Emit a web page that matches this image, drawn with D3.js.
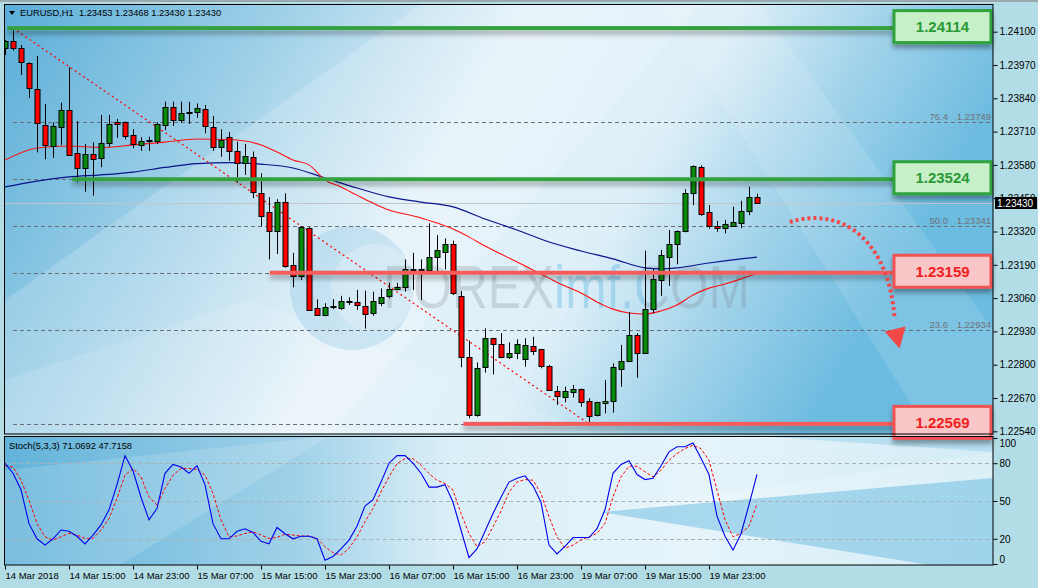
<!DOCTYPE html>
<html><head><meta charset="utf-8">
<script src="https://cdn.jsdelivr.net/npm/d3@7/dist/d3.min.js"></script>
<style>html,body{margin:0;padding:0;background:#b3dde6;}svg{display:block;font-family:"Liberation Sans",Arial,sans-serif;}</style>
</head><body><svg id="c" width="1038" height="588"></svg>
<script>
// ---------- DATA ----------
const headerText = "EURUSD,H1  1.23453 1.23468 1.23430 1.23430";
const stochText = "Stoch(5,3,3) 71.0692 47.7158";
const openP = [1.24035,1.24064,1.24035,1.23977,1.23875,1.23735,1.23655,1.23729,1.23794,1.23625,
1.23567,1.23621,1.23606,1.23664,1.23747,1.23747,1.23696,1.23658,1.23676,1.23671,
1.23738,1.23805,1.23753,1.23785,1.23785,1.23797,1.23729,1.23649,1.23688,1.23634,
1.23586,1.23610,1.23469,1.23395,1.23319,1.23434,1.23189,1.23147,1.23335,1.23020,
1.22991,1.23026,1.23022,1.23045,1.23044,1.23030,1.23001,1.23043,1.23065,1.23094,
1.23102,1.23167,1.23172,1.23167,1.23222,1.23241,1.23271,1.23068,1.22829,1.22604,
1.22790,1.22903,1.22880,1.22827,1.22844,1.22822,1.22873,1.22860,1.22795,1.22698,
1.22675,1.22695,1.22705,1.22658,1.22601,1.22649,1.22656,1.22783,1.22814,1.22916,
1.22844,1.23016,1.23131,1.23222,1.23270,1.23319,1.23469,1.23573,1.23395,1.23340,
1.23332,1.23343,1.23352,1.23400,1.23453];
const highP = [1.24068,1.24114,1.24048,1.23980,1.24005,1.23818,1.23746,1.23823,1.23961,1.23751,
1.23662,1.23668,1.23775,1.23775,1.23759,1.23749,1.23720,1.23688,1.23690,1.23746,
1.23827,1.23827,1.23827,1.23826,1.23820,1.23814,1.23771,1.23719,1.23708,1.23671,
1.23662,1.23632,1.23547,1.23454,1.23446,1.23469,1.23237,1.23341,1.23337,1.23055,
1.23040,1.23056,1.23069,1.23063,1.23092,1.23089,1.23085,1.23098,1.23120,1.23120,
1.23211,1.23237,1.23211,1.23352,1.23306,1.23293,1.23284,1.23088,1.22894,1.22809,
1.22942,1.22905,1.22923,1.22887,1.22899,1.22903,1.22909,1.22862,1.22799,1.22717,
1.22714,1.22721,1.22707,1.22669,1.22655,1.22740,1.22805,1.22877,1.23005,1.22923,
1.23245,1.23176,1.23248,1.23326,1.23324,1.23485,1.23578,1.23578,1.23423,1.23361,
1.23365,1.23417,1.23440,1.23495,1.23468];
const lowP = [1.24009,1.24026,1.23931,1.23842,1.23629,1.23602,1.23608,1.23658,1.23615,1.23512,
1.23475,1.23460,1.23571,1.23651,1.23686,1.23680,1.23645,1.23635,1.23635,1.23662,
1.23716,1.23732,1.23745,1.23740,1.23764,1.23703,1.23635,1.23612,1.23596,1.23511,
1.23541,1.23450,1.23341,1.23211,1.23232,1.23179,1.23102,1.23131,1.23011,1.22990,
1.22989,1.23017,1.23014,1.23033,1.23014,1.22941,1.22991,1.23029,1.23059,1.23092,
1.23085,1.23092,1.23053,1.23165,1.23165,1.23172,1.23072,1.22790,1.22591,1.22597,
1.22769,1.22762,1.22825,1.22822,1.22822,1.22792,1.22838,1.22786,1.22700,1.22643,
1.22653,1.22672,1.22636,1.22569,1.22598,1.22610,1.22613,1.22714,1.22812,1.22749,
1.22842,1.23001,1.23069,1.23108,1.23192,1.23317,1.23423,1.23381,1.23331,1.23319,
1.23313,1.23339,1.23333,1.23384,1.23430];
const closeP = [1.24064,1.24035,1.23981,1.23879,1.23742,1.23655,1.23732,1.23794,1.23617,1.23567,
1.23621,1.23602,1.23664,1.23738,1.23741,1.23693,1.23660,1.23673,1.23677,1.23738,
1.23807,1.23753,1.23781,1.23787,1.23801,1.23732,1.23649,1.23676,1.23635,1.23586,
1.23615,1.23473,1.23378,1.23319,1.23434,1.23183,1.23147,1.23339,1.23014,1.22991,
1.23024,1.23028,1.23050,1.23047,1.23033,1.22997,1.23049,1.23066,1.23094,1.23102,
1.23172,1.23172,1.23173,1.23219,1.23248,1.23271,1.23079,1.22829,1.22604,1.22786,
1.22903,1.22880,1.22831,1.22844,1.22880,1.22877,1.22853,1.22795,1.22701,1.22679,
1.22697,1.22705,1.22656,1.22601,1.22653,1.22658,1.22790,1.22814,1.22916,1.22844,
1.23016,1.23133,1.23228,1.23271,1.23322,1.23469,1.23576,1.23391,1.23341,1.23332,
1.23348,1.23358,1.23400,1.23454,1.23430];
// moving averages (bar index, price)
const maFastBars = [0,4,8,12,16,20,24,28,30,32,34,36,38,40,42,44,46,48,50,52,54,56,58,60,62,64,66,68,70,72,74,76,78,80,82,84,86,88,90,92,94];
const maFastVals = [1.23599,1.23646,1.23654,1.23648,1.23658,1.23669,1.23681,1.23679,1.23673,1.23658,1.23630,1.23599,1.23580,1.23521,1.23494,1.23462,1.23431,1.23404,1.23388,1.23373,1.23353,1.23330,1.23299,1.23263,1.23232,1.23201,1.23170,1.23138,1.23107,1.23080,1.23045,1.23017,1.23002,1.22998,1.23010,1.23033,1.23072,1.23099,1.23115,1.23135,1.23158];
const maSlowBars = [0,4,8,12,16,20,24,28,32,36,40,44,48,52,56,60,64,68,72,76,80,82,84,88,92,94];
const maSlowVals = [1.23494,1.23517,1.23533,1.23541,1.23552,1.23570,1.23585,1.23589,1.23583,1.23568,1.23529,1.23490,1.23455,1.23435,1.23416,1.23369,1.23326,1.23279,1.23244,1.23213,1.23178,1.23174,1.23178,1.23197,1.23213,1.23220];
const stochK = [80,72,59,32,20,15,20,27,26,22,16,23,31,43,63,86,74,53,35,44,72,79,77,72,78,63,32,20,20,26,
28,25,18,16,29,24,20,22,22,20,3,6,12,19,30,46,51,65,80,86,86,80,72,61,61,63,49,27,5,12,
26,40,53,65,68,70,62,49,15,8,14,21,21,21,28,43,72,79,82,71,67,68,78,89,93,93,96,84,71,38,
22,11,24,47,71.07];
const stochD = [78,77,66.5,50.7,32.2,21.6,19,21.6,24.3,23,20.3,20.3,26.9,36.2,52,70.5,75.8,69.1,53.3,46.7,
59.9,70.5,75.8,75.8,75,70.5,56,35,21.6,22.2,24.3,25.6,23,20.3,21.1,23.7,23,22.2,22.2,20.3,
13.7,9,7.1,12.4,21.6,33.5,44.1,57.2,69.1,79.7,83.6,83.6,78.4,71.8,66.5,63.9,58.6,40.1,24.3,13.7,
17.7,29.5,42,57,65.1,67,66.5,56,37.5,21.6,12.4,15,19,21.6,24.3,32.2,53.3,69.1,77.6,77.6,
73.1,69.1,74.4,82.3,87.6,91.6,94.2,91.6,82.3,58.6,35,21.6,24.3,30,47.72];
const timeTickBars = [0,8,16,24,32,40,48,56,64,72,80,88];
const timeTickLabels = ["14 Mar 2018","14 Mar 15:00","14 Mar 23:00","15 Mar 07:00","15 Mar 15:00","15 Mar 23:00","16 Mar 07:00","16 Mar 15:00","16 Mar 23:00","19 Mar 07:00","19 Mar 15:00","19 Mar 23:00"];
const priceTicks = [1.22540,1.22670,1.22800,1.22930,1.23060,1.23190,1.23320,1.23450,1.23580,1.23710,1.23840,1.23970,1.24100];
const stochTicks = [0,20,50,80,100];
const stochLevels = [20,50,80];
const fibLevels = ["0.0","23.6","38.2","50.0","61.8","76.4","100.0"];
const fibPrices = [1.22569,1.22934,1.23159,1.23341,1.23524,1.23749,1.24114];
const fibFromBar = 1, fibToBar = 73;
const srPrices = [1.24114,1.23524,1.23159,1.22569];
const srTypes = ["res","res","sup","sup"];
const srStartBars = [0.3,8.4,33.1,57.3];
const lastPrice = 1.23430;
const arrowBars = [98.1,104.5,110.5,111.2];
const arrowPrices = [1.23357,1.23420,1.23290,1.22980];
const watermarkText = "FOREXimf.COM";

// ---------- SCALES ----------
const svg = d3.select("#c");
const X0=5, XR=993, MT=5, MB=434, ST=436, SB=565;
const x = d3.scaleLinear().domain([0,94]).range([5,757]);
const y = d3.scaleLinear().domain([1.22540,1.24100]).range([431.3,31.7]);
const ys = d3.scaleLinear().domain([0,100]).range([564,438]);

const defs = svg.append("defs");
function lg(id, stops, x1=0,y1=0,x2=1,y2=0){
  const g = defs.append("linearGradient").attr("id",id).attr("x1",x1).attr("y1",y1).attr("x2",x2).attr("y2",y2);
  stops.forEach(s=>g.append("stop").attr("offset",s[0]).attr("stop-color",s[1]));
  return g;
}
lg("bgMain",[[0,"#5aaed8"],[0.28,"#a3d2e9"],[0.5,"#e4f2f9"],[0.7,"#ddeff8"],[0.84,"#a4d4eb"],[1,"#6cbbe0"]],0,0,1,0.25);
lg("bgStoch",[[0,"#62b3da"],[0.3,"#a2d2e9"],[0.45,"#dbeff8"],[0.7,"#e6f4fa"],[1,"#d3ecf6"]]);
// watermark colouring: grey "FOREX", blue "imf", grey ".COM"
const wg = defs.append("linearGradient").attr("id","wmFill").attr("gradientUnits","userSpaceOnUse").attr("x1",383).attr("y1",0).attr("x2",750).attr("y2",0);
[[0,"rgba(110,120,130,0.24)"],[0.463,"rgba(110,120,130,0.24)"],[0.464,"rgba(90,180,225,0.38)"],[0.71,"rgba(90,180,225,0.38)"],[0.711,"rgba(110,120,130,0.24)"],[1,"rgba(110,120,130,0.24)"]]
  .forEach(s=>wg.append("stop").attr("offset",s[0]).attr("stop-color",s[1]));
const f = defs.append("filter").attr("id","sh").attr("filterUnits","userSpaceOnUse").attr("x",0).attr("y",0).attr("width",1038).attr("height",588);
f.append("feDropShadow").attr("dx",0).attr("dy",4).attr("stdDeviation",2.5).attr("flood-color","#000").attr("flood-opacity",0.35);
defs.append("clipPath").attr("id","cm").append("rect").attr("x",X0).attr("y",MT).attr("width",XR-X0).attr("height",MB-MT);
defs.append("clipPath").attr("id","cs").append("rect").attr("x",X0).attr("y",ST).attr("width",XR-X0).attr("height",SB-ST);

// ---------- BACKGROUNDS ----------
svg.append("rect").attr("width",1038).attr("height",588).attr("fill","#b3dde6");
svg.append("rect").attr("x",0).attr("y",0).attr("width",1038).attr("height",2).attr("fill","#9aa9ad");
const gm = svg.append("g").attr("clip-path","url(#cm)");
gm.append("rect").attr("x",X0).attr("y",MT).attr("width",XR-X0).attr("height",MB-MT).attr("fill","url(#bgMain)");
gm.append("polygon").attr("points","5,434 5,300 420,5 700,5 330,434").attr("fill","rgba(255,255,255,0.18)");
gm.append("polygon").attr("points","660,5 760,5 993,330 993,434 930,434").attr("fill","rgba(255,255,255,0.12)");
gm.append("polygon").attr("points","5,434 5,380 250,300 600,434").attr("fill","rgba(255,255,255,0.12)");
const gs = svg.append("g").attr("clip-path","url(#cs)");
gs.append("rect").attr("x",X0).attr("y",ST).attr("width",XR-X0).attr("height",SB-ST).attr("fill","url(#bgStoch)");
gs.append("polygon").attr("points","5,565 5,470 330,436 120,565").attr("fill","rgba(255,255,255,0.15)");
gs.append("polygon").attr("points","600,512 993,478 993,565 930,565").attr("fill","rgba(105,188,226,0.5)");
gs.append("polygon").attr("points","600,512 993,452 993,478").attr("fill","rgba(255,255,255,0.18)");
gs.append("polygon").attr("points","760,436 993,436 993,452").attr("fill","rgba(120,195,228,0.35)");

// watermark
gm.append("circle").attr("cx",352).attr("cy",288).attr("r",62).attr("fill","rgba(110,185,225,0.25)");
gm.append("circle").attr("cx",375).attr("cy",288).attr("r",44).attr("fill","rgba(255,255,255,0.22)");
gm.append("text").attr("x",383).attr("y",308).attr("font-size",62).attr("font-family","Liberation Sans, Arial, sans-serif")
  .attr("textLength",367).attr("lengthAdjust","spacingAndGlyphs").attr("fill","url(#wmFill)").text(watermarkText);

// ---------- MAIN PANEL CONTENT ----------
gm.selectAll("line.fib").data(fibPrices).join("line")
  .attr("x1",x(fibFromBar)).attr("x2",XR).attr("y1",d=>Math.round(y(d))+0.5).attr("y2",d=>Math.round(y(d))+0.5)
  .attr("stroke","#6a6f73").attr("stroke-width",1).attr("stroke-dasharray","4,3");
gm.selectAll("g.fibl").data(fibPrices.filter(p=>!srPrices.includes(p))).join("g").each(function(d){
  const g=d3.select(this), yy=Math.round(y(d))-2, i=fibPrices.indexOf(d);
  g.append("text").attr("x",948).attr("y",yy).attr("text-anchor","end").attr("font-size",9.5).attr("fill","#6e7378").text(fibLevels[i]);
  g.append("text").attr("x",991).attr("y",yy).attr("text-anchor","end").attr("font-size",9.5).attr("fill","#6e7378").text(d.toFixed(5));
});
gm.append("line").attr("x1",X0).attr("x2",XR).attr("y1",Math.round(y(lastPrice))+0.5).attr("y2",Math.round(y(lastPrice))+0.5)
  .attr("stroke","#c2c6c8").attr("stroke-width",1);
const lineMA = d3.line().x(d=>x(d[0])).y(d=>y(d[1])).curve(d3.curveMonotoneX);
gm.append("path").attr("d",lineMA(maSlowBars.map((b,i)=>[b,maSlowVals[i]]))).attr("fill","none").attr("stroke","#0a148c").attr("stroke-width",1.2);
gm.append("path").attr("d",lineMA(maFastBars.map((b,i)=>[b,maFastVals[i]]))).attr("fill","none").attr("stroke","#ff1010").attr("stroke-width",1.1);
gm.append("line").attr("x1",x(fibFromBar)).attr("y1",y(fibPrices[6])).attr("x2",x(fibToBar)).attr("y2",y(fibPrices[0]))
  .attr("stroke","#ff0000").attr("stroke-width",1.2).attr("stroke-dasharray","2,3");
// candles
const idx = d3.range(openP.length);
const cg = gm.append("g");
cg.selectAll("line").data(idx).join("line")
  .attr("x1",i=>Math.round(x(i))+0.5).attr("x2",i=>Math.round(x(i))+0.5)
  .attr("y1",i=>y(highP[i])).attr("y2",i=>y(lowP[i])).attr("stroke","#000").attr("stroke-width",1);
cg.selectAll("rect").data(idx).join("rect")
  .attr("x",i=>Math.round(x(i))-2).attr("width",5)
  .attr("y",i=>Math.round(y(Math.max(openP[i],closeP[i])))+0.5)
  .attr("height",i=>Math.max(1,Math.round(Math.abs(y(openP[i])-y(closeP[i])))))
  .attr("fill",i=>closeP[i]>=openP[i]?"#0a8a0a":"#ff0000")
  .attr("stroke","#000").attr("stroke-width",1);

// S/R lines
srPrices.forEach((p,i)=>{
  const res = srTypes[i]==="res";
  const yy = y(p);
  gm.append("rect").attr("x",x(srStartBars[i])).attr("width",893-x(srStartBars[i])).attr("y",yy-2).attr("height",4)
    .attr("fill",res?"#35a040":"#f45c5c").attr("filter","url(#sh)");
});
srPrices.forEach((p,i)=>{
  const res = srTypes[i]==="res";
  const yy = y(p)-1.5;
  const g = svg.append("g");
  g.append("rect").attr("x",894).attr("y",yy-16).attr("width",97).attr("height",32)
    .attr("fill",res?"#c8f0c8":"#f8c6c6").attr("stroke",res?"#2ea23a":"#f05353").attr("stroke-width",3).attr("filter","url(#sh)");
  g.append("text").attr("x",942.5).attr("y",yy+5.5).attr("text-anchor","middle").attr("font-size",15).attr("font-weight","bold")
    .attr("fill",res?"#2a9a36":"#f01e1e").text(p.toFixed(5));
});

// dotted curved arrow
const ap = d3.path();
ap.moveTo(x(arrowBars[0]),y(arrowPrices[0]));
ap.bezierCurveTo(x(arrowBars[1]),y(arrowPrices[1]),x(arrowBars[2]),y(arrowPrices[2]),x(arrowBars[3]),y(arrowPrices[3]));
svg.append("path").attr("d",ap.toString()).attr("fill","none").attr("stroke","#f24848").attr("stroke-width",4).attr("stroke-dasharray","3,3");
const tx = x(arrowBars[3])+5, ty = y(arrowPrices[3])+30;
svg.append("polygon").attr("points",`${tx},${ty} ${tx-15},${ty-17} ${tx+6},${ty-22}`).attr("fill","#f24848");

// ---------- STOCH PANEL ----------
gs.selectAll("line.lv").data(stochLevels).join("line")
  .attr("x1",X0).attr("x2",XR).attr("y1",d=>Math.round(ys(d))+0.5).attr("y2",d=>Math.round(ys(d))+0.5)
  .attr("stroke","#a9b1b5").attr("stroke-dasharray","4,3");
const sl = d3.line().x((d,i)=>x(i)).y(d=>ys(d));
gs.append("path").attr("d",sl(stochD)).attr("fill","none").attr("stroke","#ff0000").attr("stroke-width",1).attr("stroke-dasharray","3,2");
gs.append("path").attr("d",sl(stochK)).attr("fill","none").attr("stroke","#0000ee").attr("stroke-width",1.1);

// ---------- FRAMES & AXES ----------
svg.append("rect").attr("x",4.5).attr("y",4.5).attr("width",XR-4.5).attr("height",MB-4.5).attr("fill","none").attr("stroke","#000");
svg.append("rect").attr("x",4.5).attr("y",436.5).attr("width",XR-4.5).attr("height",SB-436.5).attr("fill","none").attr("stroke","#000");

const pa = svg.append("g").attr("transform",`translate(${XR+0.5},0)`)
  .call(d3.axisRight(y).tickValues(priceTicks).tickSize(4).tickPadding(2).tickFormat(d3.format(".5f")));
pa.select(".domain").remove();
pa.selectAll("text").attr("font-size",10).attr("font-family","Liberation Sans, Arial, sans-serif").attr("fill","#000");
pa.selectAll("line").attr("stroke","#000");

const sa = svg.append("g").attr("transform",`translate(${XR+0.5},0)`)
  .call(d3.axisRight(ys).tickValues(stochTicks).tickSize(4).tickPadding(2));
sa.select(".domain").remove();
sa.selectAll("text").attr("font-size",10).attr("font-family","Liberation Sans, Arial, sans-serif").attr("fill","#000")
  .attr("dy",d=>d===100?"0.85em":d===0?"-0.2em":"0.32em");
sa.selectAll("line").attr("stroke","#000");

const lp = svg.append("g");
lp.append("rect").attr("x",995).attr("y",Math.round(y(lastPrice))-6).attr("width",42).attr("height",12).attr("fill","#000");
lp.append("text").attr("x",997).attr("y",Math.round(y(lastPrice))+4).attr("font-size",10).attr("fill","#fff").text(lastPrice.toFixed(5));

const ta = svg.append("g").attr("transform",`translate(0,${SB+0.5})`)
  .call(d3.axisBottom(x).tickValues(timeTickBars).tickSize(4).tickFormat((d,i)=>timeTickLabels[i]));
ta.select(".domain").remove();
ta.selectAll("line").attr("stroke","#000");
ta.selectAll("text").attr("text-anchor","start").attr("dx",0).attr("y",7).attr("dy","0.71em")
  .attr("font-size",9.5).attr("font-family","Liberation Sans, Arial, sans-serif").attr("fill","#000");

svg.append("polygon").attr("points","9,11 15,11 12,15").attr("fill","#000");
svg.append("text").attr("x",20).attr("y",16).attr("font-size",9.3).attr("fill","#000").style("white-space","pre").text(headerText);
svg.append("text").attr("x",9).attr("y",449).attr("font-size",9.3).attr("fill","#000").text(stochText);
</script></body></html>
